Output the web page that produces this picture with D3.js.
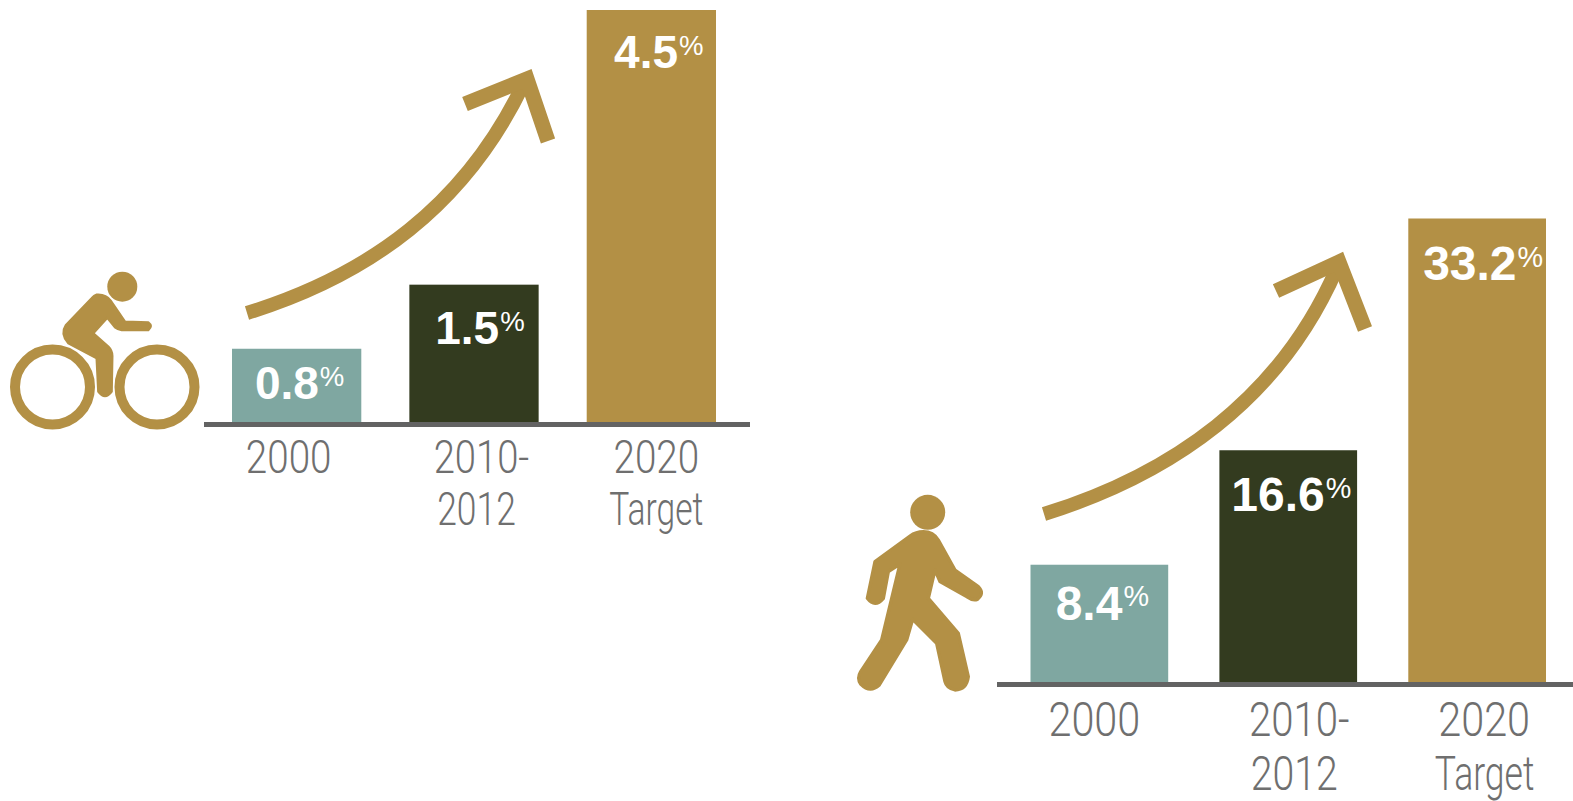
<!DOCTYPE html>
<html>
<head>
<meta charset="utf-8">
<script src="https://cdn.jsdelivr.net/npm/d3@7"></script>
<style>
    html, body { margin: 0; padding: 0; background: #fff; overflow: hidden; }
    svg { display: block; }
    text { font-family: "Liberation Sans", sans-serif; }
</style>
</head>
<body>
<script>
//categories and values
var periods = ["2000", "2010-2012", "2020 Target"];
var tickLines = [["2000"], ["2010-", "2012"], ["2020", "Target"]];
var cyclingShare = [0.8, 1.5, 4.5];
var walkingShare = [8.4, 16.6, 33.2];
var barColors = ["#7fa7a1", "#333b1f", "#b39045"];

var gold = "#b39045";

//icon shapes, traced in 3x zoomed coords
var riderPath = "M290,134 Q318,132 332,152 L375,215 L445,217 Q460,228 445,240 L365,240 Q352,238 345,232 L322,203 L280,250 L325,290 Q337,302 337,318 L335,425 Q315,452 295,425 L290,325 L205,280 Q180,252 198,225 L275,145 Q282,136 290,134 Z";
var walkerPath = "M250,155 Q280,155 295,180 L345,270 L415,320 Q435,340 412,358 Q398,363 380,350 L300,305 L285,270 L265,355 L355,460 L385,590 Q380,630 345,630 Q320,625 315,605 L290,490 L218,418 L200,480 L118,615 Q90,640 62,612 Q50,595 62,575 L125,480 L180,252 L145,275 L130,355 Q105,385 82,355 L105,245 L210,168 Q228,155 250,155 Z";

var w = 1573, h = 801;

var svg = d3.select("body").append("svg")
    .attr("width", w)
    .attr("height", h);

//one panel = bars, baseline, tick labels, arrow
function drawPanel(opt) {
    var x = d3.scaleBand()
        .domain(periods)
        .range(opt.xRange)
        .paddingInner(0.271);

    var y = d3.scaleLinear()
        .domain([0, opt.yMax])
        .range([opt.baseY, opt.topY]);

    var g = svg.append("g").attr("class", opt.name);

    g.selectAll(".bar")
        .data(opt.values)
        .enter()
        .append("rect")
        .attr("class", "bar")
        .attr("x", function(d, i) { return x(periods[i]); })
        .attr("y", function(d) { return y(d); })
        .attr("width", x.bandwidth())
        .attr("height", function(d) { return y(0) - y(d); })
        .style("fill", function(d, i) { return barColors[i]; });

    //value labels, number + small percent
    var labels = g.selectAll(".value")
        .data(opt.values)
        .enter()
        .append("text")
        .attr("class", "value")
        .attr("x", function(d, i) { return x(periods[i]) + x.bandwidth() / 2 + opt.valueDx[i]; })
        .attr("y", function(d, i) { return y(d) + opt.valueDy[i]; })
        .attr("text-anchor", "middle")
        .style("fill", "#fff");

    labels.append("tspan")
        .style("font-size", opt.valueSize + "px")
        .style("font-weight", "bold")
        .text(function(d) { return d.toFixed(1); });

    labels.append("tspan")
        .attr("dx", 1)
        .attr("dy", -opt.valueSize * 0.28)
        .style("font-size", opt.valueSize * 0.6 + "px")
        .text("%");

    //baseline
    g.append("rect")
        .attr("x", opt.lineX[0])
        .attr("y", opt.baseY)
        .attr("width", opt.lineX[1] - opt.lineX[0])
        .attr("height", 5)
        .style("fill", "#636363");

    //tick labels
    var ticks = g.selectAll(".tick")
        .data(tickLines)
        .enter()
        .append("g")
        .attr("class", "tick");

    ticks.each(function(lines, i) {
        lines.forEach(function(line, j) {
            d3.select(this).append("text")
                .attr("text-anchor", "middle")
                .attr("transform", "translate(" + (x(periods[i]) + x.bandwidth() / 2 + opt.tickDx[i][j]) + "," + (opt.tickY + j * opt.tickGap) + ") scale(" + opt.tickStretch[i][j] + ",1)")
                .style("font-size", opt.tickSize + "px")
                .style("font-family", "Roboto, sans-serif")
                .style("font-weight", 300)
                .style("fill", "#6f6f6f")
                .text(line);
        }, this);
    });

    //growth arrow
    g.append("path")
        .attr("d", opt.arrowCurve)
        .style("fill", "none")
        .style("stroke", gold)
        .style("stroke-width", 14);

    g.append("path")
        .attr("d", opt.arrowHead)
        .style("fill", "none")
        .style("stroke", gold)
        .style("stroke-width", 15)
        .style("stroke-linejoin", "miter");
}

drawPanel({
    name: "cycling",
    values: cyclingShare,
    xRange: [232, 716],
    baseY: 422,
    topY: 10,
    yMax: 4.5,
    lineX: [204, 750],
    valueSize: 46,
    valueDx: [3, 6, 7.5],
    valueDy: [50, 59, 58],
    tickY: 472.5,
    tickGap: 52.5,
    tickSize: 46,
    tickStretch: [[0.84], [0.83, 0.77], [0.84, 0.73]],
    tickDx: [[-8], [7.5, 2.5], [5, 5]],
    arrowCurve: "M247,313 C370,275 465,205 523,85",
    arrowHead: "M465,104 L527,79 L548,141"
});

drawPanel({
    name: "walking",
    values: walkingShare,
    xRange: [1030.5, 1546],
    baseY: 682,
    topY: 218.5,
    yMax: 33.2,
    lineX: [997, 1573],
    valueSize: 48,
    valueDx: [3, 3, 6],
    valueDy: [55, 61, 61.5],
    tickY: 735.5,
    tickGap: 54,
    tickSize: 49,
    tickStretch: [[0.845], [0.82, 0.80], [0.845, 0.726]],
    tickDx: [[-5], [11, 6], [7, 7.5]],
    arrowCurve: "M1044,514 C1170,475 1280,400 1337,268",
    arrowHead: "M1276,291 L1339,262 L1365,329"
});

//cyclist icon
var rider = svg.append("g").attr("class", "rider");
rider.selectAll(".wheel")
    .data([52.5, 157])
    .enter()
    .append("circle")
    .attr("class", "wheel")
    .attr("cx", function(d) { return d; })
    .attr("cy", 387)
    .attr("r", 37.5)
    .style("fill", "none")
    .style("stroke", gold)
    .style("stroke-width", 10);
rider.append("circle")
    .attr("cx", 122.3).attr("cy", 286.7).attr("r", 15)
    .style("fill", gold);
rider.append("path")
    .attr("transform", "translate(0,250) scale(0.3333)")
    .attr("d", riderPath)
    .style("fill", gold)
    .style("stroke", gold)
    .style("stroke-width", 7)
    .style("stroke-linejoin", "round");

//walker icon
var walker = svg.append("g").attr("class", "walker");
walker.append("circle")
    .attr("cx", 927.7).attr("cy", 512.3).attr("r", 17.5)
    .style("fill", gold);
walker.append("path")
    .attr("transform", "translate(840,480) scale(0.3333)")
    .attr("d", walkerPath)
    .style("fill", gold)
    .style("stroke", gold)
    .style("stroke-width", 10)
    .style("stroke-linejoin", "round");
</script>
</body>
</html>
